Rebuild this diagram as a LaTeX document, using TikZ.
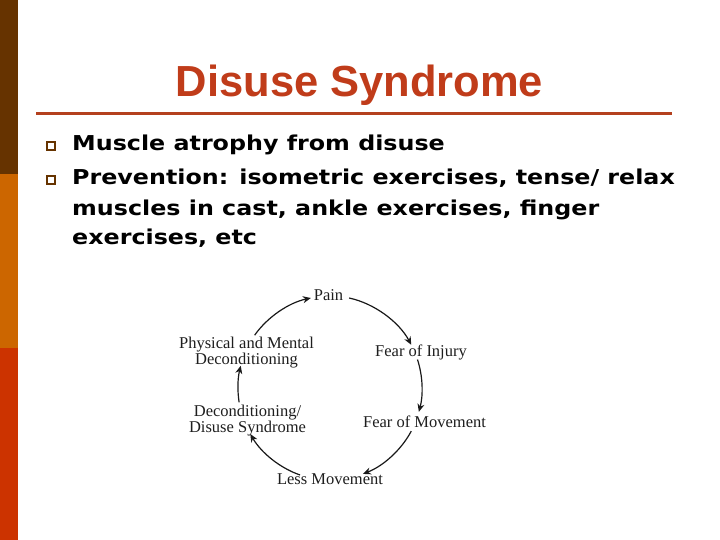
\documentclass[tikz,border=0pt]{standalone}
\usepackage{fontspec}
\setmainfont{Liberation Serif}
\newfontfamily\titlefont{Liberation Sans Bold}
\newfontfamily\bulletfont[FakeStretch=1.16]{DejaVu Sans Bold}
\usetikzlibrary{arrows.meta,calc}
\definecolor{barbrown}{RGB}{102,51,0}
\definecolor{barorange}{RGB}{204,102,0}
\definecolor{barred}{RGB}{204,51,0}
\definecolor{titlered}{RGB}{192,60,26}
\definecolor{rulered}{RGB}{180,64,30}
\definecolor{diagtext}{RGB}{30,30,30}
\begin{document}
\begin{tikzpicture}[x=1pt,y=1pt,
  titlestyle/.style={anchor=base,inner sep=0pt,text=titlered,font=\titlefont\fontsize{43.5}{50}\selectfont},
  bulletsq/.style={draw=barbrown,line width=2.2pt,minimum size=8pt,inner sep=0pt},
  bullettext/.style={anchor=base west,inner sep=0pt,font=\bulletfont\fontsize{20.5}{24}\selectfont},
  label/.style={anchor=base,inner sep=0pt,text=diagtext,font=\fontsize{16.5}{18}\selectfont},
  label2/.style={anchor=north,inner sep=0pt,align=center,text=diagtext,font=\fontsize{16.5}{14.7}\selectfont},
  arr/.style={draw=black!90,line width=1.2pt,-{Stealth[length=8pt,width=7pt]}}
]
\useasboundingbox (0,0) rectangle (720,-540);
\fill[white] (0,0) rectangle (720,-540);
% left bar
\fill[barbrown] (0,0) rectangle (18,-174);
\fill[barorange] (0,-174) rectangle (18,-348);
\fill[barred] (0,-348) rectangle (18,-540);
% title
\node[titlestyle] (title) at (359.5,-97) {Disuse Syndrome};
\draw[rulered,line width=3pt] (36,-114) -- (672,-114);
% bullets
\node[bulletsq] (b1) at (51,-146) {};
\node[bulletsq] (b2) at (51,-180) {};
\node[bullettext] (t1) at (72,-151) {Muscle atrophy from disuse};
\node[bullettext] (t2) at (72,-185) {Prevention: isometric exercises, tense/ relax};
\node[bullettext] (t3) at (72,-215) {muscles in cast, ankle exercises, finger};
\node[bullettext] (t4) at (72,-244) {exercises, etc};
% cycle labels
\node[label] (pain) at (328.5,-300) {Pain};
\node[label] (injury) at (421,-356) {Fear of Injury};
\node[label] (movement) at (424.5,-427) {Fear of Movement};
\node[label] (less) at (330,-484) {Less Movement};
\node[label2] (decon) at (247.5,-405.2) {Deconditioning/\\Disuse Syndrome};
\node[label2] (phys) at (246.5,-336.7) {Physical and Mental\\Deconditioning};
% cycle arrows
\coordinate (cc) at (330,-388);
\coordinate (a1s) at ($(cc)+(78:92)$);
\coordinate (a1e) at ($(cc)+(28:92)$);
\coordinate (a2s) at ($(cc)+(18:92)$);
\coordinate (a2e) at ($(cc)+(-15:92)$);
\coordinate (a3s) at ($(cc)+(-28:92)$);
\coordinate (a3e) at ($(cc)+(-69:92)$);
\coordinate (a4s) at ($(cc)+(-109:92)$);
\coordinate (a4e) at ($(cc)+(-150:92)$);
\coordinate (a5s) at ($(cc)+(189:92)$);
\coordinate (a5e) at ($(cc)+(166:92)$);
\coordinate (a6s) at ($(cc)+(145:92)$);
\coordinate (a6e) at ($(cc)+(102:92)$);
\draw[arr] (a1s) to[bend left=25,looseness=0.85] (a1e);
\draw[arr] (a2s) to[bend left=16.5,looseness=0.85] (a2e);
\draw[arr] (a3s) to[bend left=20.5,looseness=0.85] (a3e);
\draw[arr] (a4s) to[bend left=20.5,looseness=0.85] (a4e);
\draw[arr] (a5s) to[bend left=11.5,looseness=0.85] (a5e);
\draw[arr] (a6s) to[bend left=21.5,looseness=0.85] (a6e);
\end{tikzpicture}
\end{document}
